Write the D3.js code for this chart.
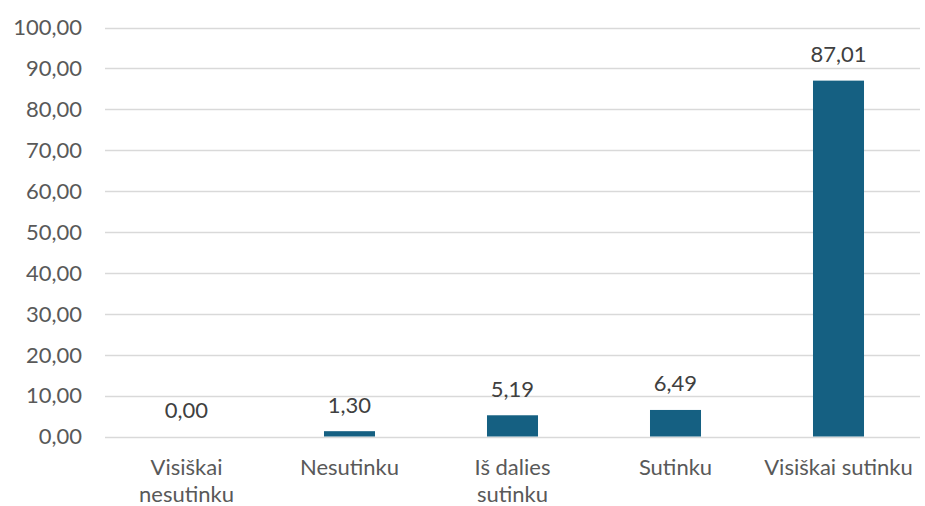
<!DOCTYPE html>
<html><head><meta charset="utf-8">
<script src="https://cdn.jsdelivr.net/npm/d3@7"></script>
<style>body{margin:0;background:#fff}svg{display:block}</style>
</head><body>
<script>
const categories = [["Visiškai","nesutinku"],["Nesutinku"],["Iš dalies","sutinku"],["Sutinku"],["Visiškai sutinku"]];
const values = [0.00, 1.30, 5.19, 6.49, 87.01];
const yTicks = [0,10,20,30,40,50,60,70,80,90,100];

const W = 925, H = 506;
const m = {left:105, right:5, top:27.5, bottom:69.5};
const font = "Lato, sans-serif";
const fs = 22;
const fmt = v => v.toFixed(2).replace('.', ',');

const svg = d3.select("body").append("svg").attr("width", W).attr("height", H);
const x = d3.scaleBand().domain(d3.range(values.length)).range([m.left, W - m.right]).paddingInner(0.687).paddingOuter(0.3435);
const y = d3.scaleLinear().domain([0,100]).range([H - m.bottom, m.top]);

const grid = svg.append("g");
grid.selectAll("line").data(yTicks).join("line")
  .attr("x1", m.left).attr("x2", W - m.right)
  .attr("y1", d => Math.round(y(d))+0.5).attr("y2", d => Math.round(y(d))+0.5)
  .attr("stroke", "#d9d9d9").attr("stroke-width", 1.5);

svg.append("g").selectAll("text").data(yTicks).join("text")
  .attr("x", 82).attr("y", d => y(d) + 7.8)
  .attr("text-anchor", "end").attr("font-family", font).attr("font-size", fs).attr("fill", "#595959")
  .text(d => fmt(d));

svg.append("g").selectAll("rect").data(values).join("rect")
  .attr("x", (d,i) => x(i)).attr("width", x.bandwidth())
  .attr("y", d => y(d)).attr("height", d => y(0) - y(d))
  .attr("fill", "#156082");

svg.append("g").selectAll("text").data(values).join("text")
  .attr("x", (d,i) => x(i) + x.bandwidth()/2).attr("y", d => y(d) - 18.5)
  .attr("text-anchor", "middle").attr("font-family", font).attr("font-size", fs).attr("fill", "#404040")
  .text(d => fmt(d));

const xl = svg.append("g").selectAll("text").data(categories).join("text")
  .attr("x", (d,i) => x(i) + x.bandwidth()/2).attr("y", 475)
  .attr("text-anchor", "middle").attr("font-family", font).attr("font-size", fs).attr("fill", "#595959");
xl.selectAll("tspan").data(d => d).join("tspan")
  .attr("x", function(){ return d3.select(this.parentNode).attr("x"); })
  .attr("dy", (d,i) => i === 0 ? 0 : 26.5)
  .text(d => d);
</script>
</body></html>
